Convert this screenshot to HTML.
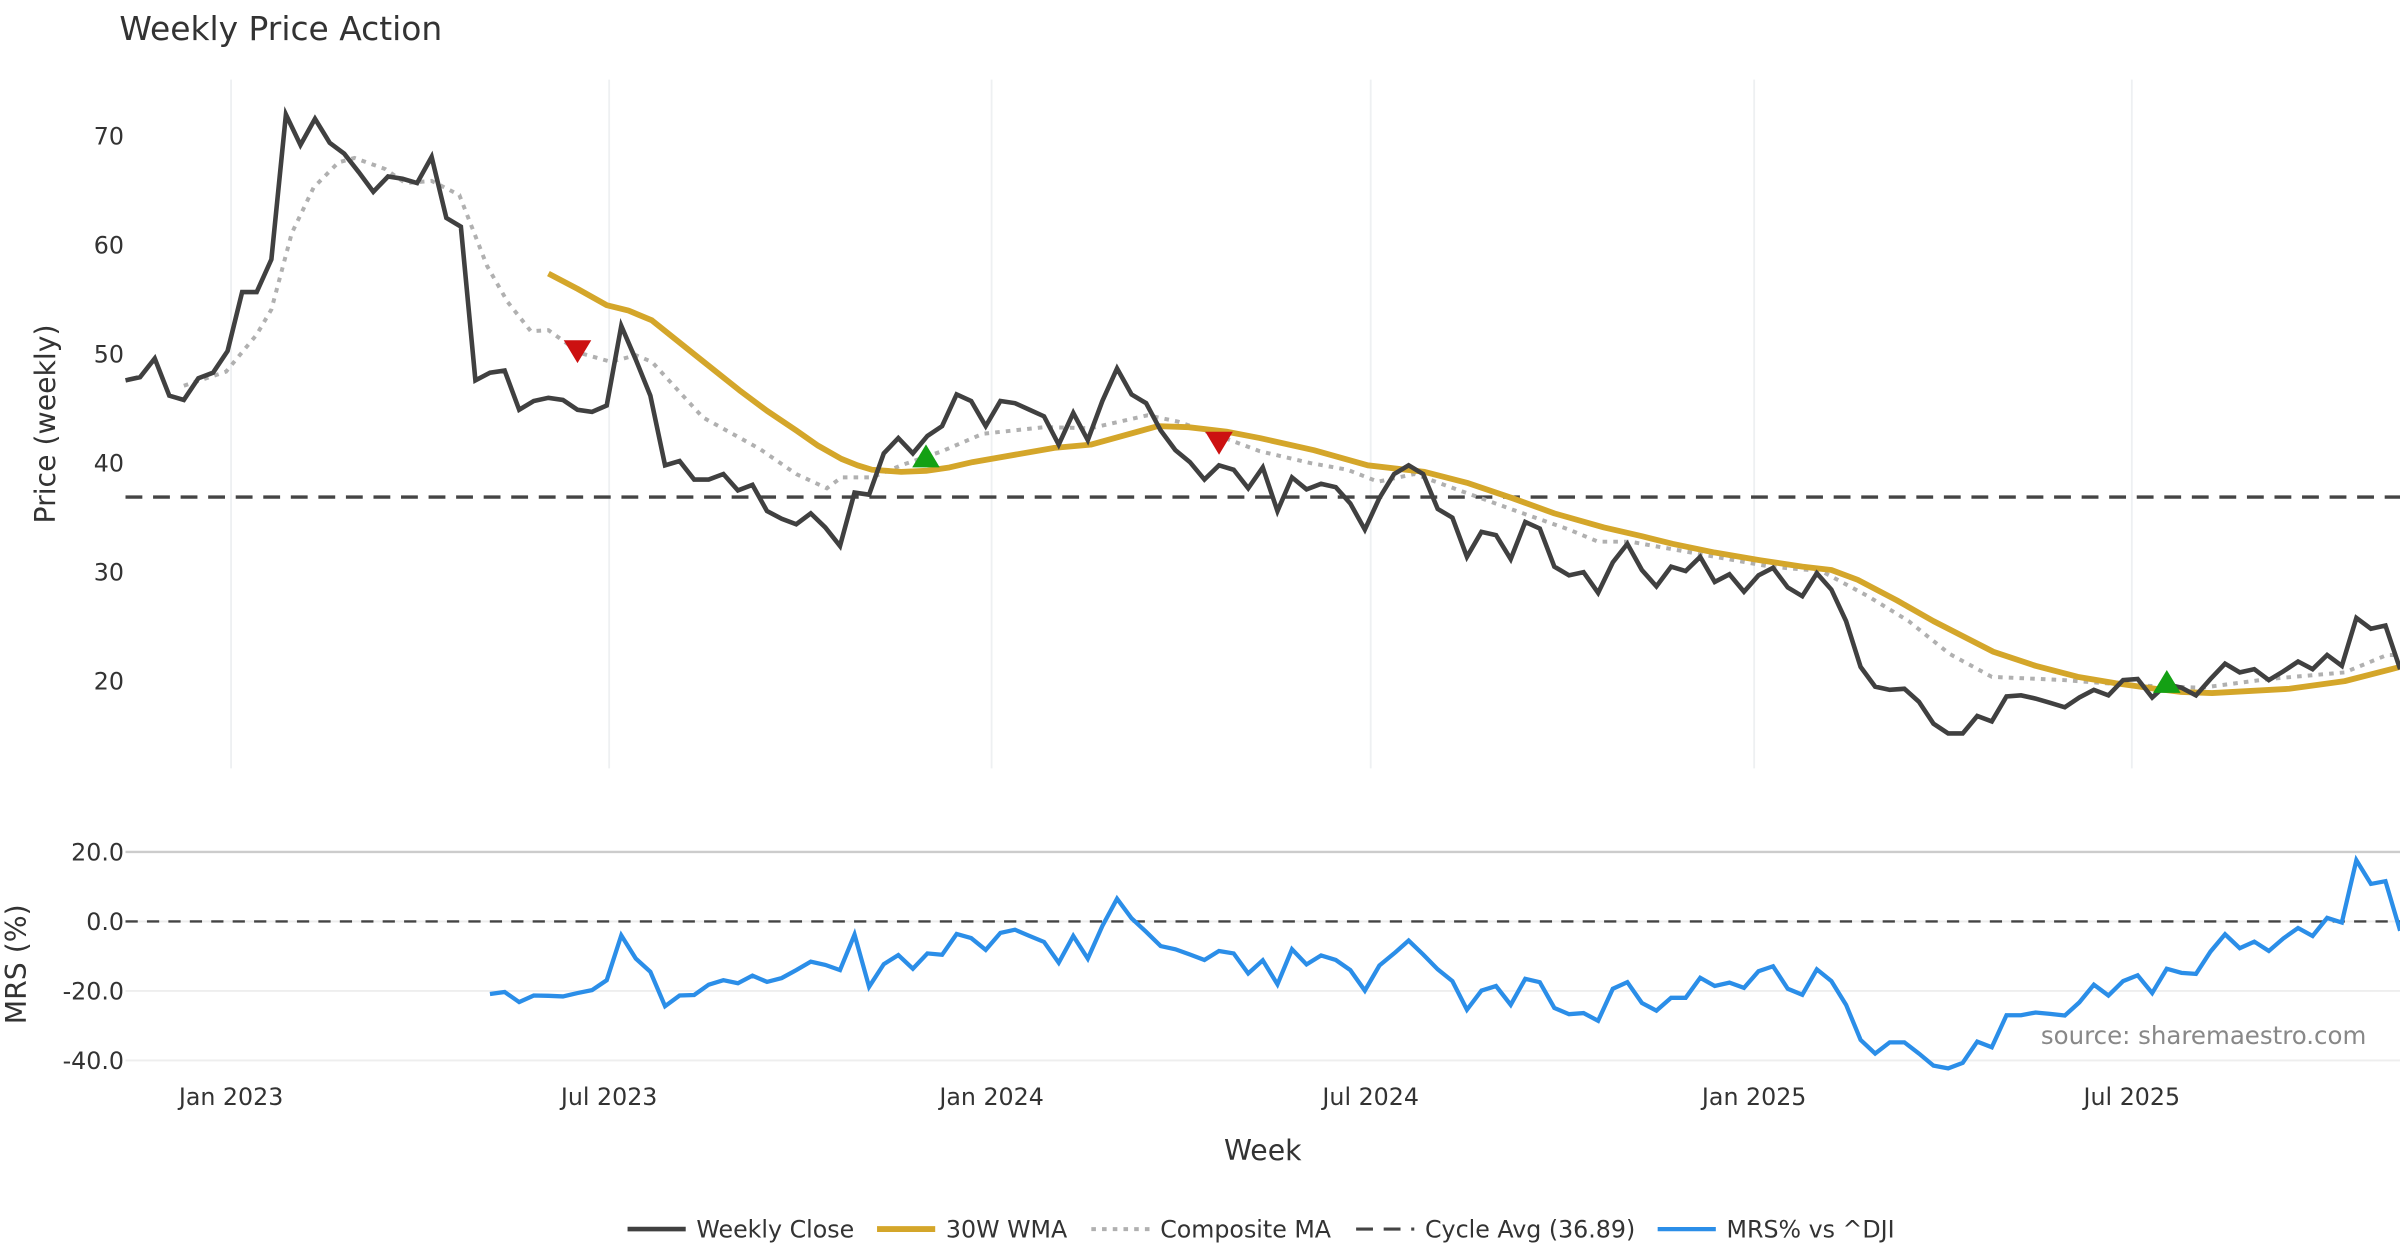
<!DOCTYPE html>
<html><head><meta charset="utf-8"><style>
html,body{margin:0;padding:0;background:#fff}
svg{display:block}
text{font-family:"DejaVu Sans","Liberation Sans",sans-serif;fill:#333}
</style></head><body>
<svg id="chart" width="2400" height="1260" viewBox="0 0 1568 823.2" xmlns="http://www.w3.org/2000/svg">
<text x="78" y="26" font-size="21.5">Weekly Price Action</text>
<g id="grid"></g><g id="axes"></g><g id="series"></g><g id="legend"></g>
<text x="1546" y="682" font-size="16" text-anchor="end" style="fill:#888">source: sharemaestro.com</text>
</svg>
<script>
const closeVals=[47.6,47.9,49.6,46.2,45.8,47.8,48.3,50.3,55.7,55.7,58.7,72.0,69.2,71.6,69.4,68.4,66.7,64.9,66.3,66.1,65.7,68.1,62.5,61.7,47.6,48.3,48.5,44.9,45.7,46.0,45.8,44.9,44.7,45.3,52.6,49.5,46.2,39.8,40.2,38.5,38.5,39.0,37.5,38.0,35.6,34.9,34.4,35.4,34.1,32.4,37.3,37.1,40.9,42.3,
40.9,42.5,43.4,46.3,45.7,43.4,45.7,45.5,44.9,44.3,41.7,44.6,42.1,45.7,48.7,46.3,45.5,43.0,41.2,40.1,38.5,39.8,39.4,37.7,39.6,35.6,38.7,37.6,38.1,37.8,36.3,33.9,36.8,39.0,39.8,39.0,35.8,35.0,31.4,33.7,33.4,31.2,34.6,34.0,30.5,29.7,30.0,28.1,30.9,32.6,30.2,
28.7,30.5,30.1,31.4,29.1,29.8,28.2,29.7,30.4,28.6,27.8,29.9,28.4,25.5,21.3,19.5,19.2,19.3,18.1,16.1,15.2,15.2,16.8,16.3,18.6,18.7,18.4,18.0,17.6,18.5,19.2,18.7,20.1,20.2,18.5,19.7,19.4,18.7,20.2,21.6,20.8,21.1,20.1,20.9,21.8,21.1,22.4,21.4,25.8,24.8,25.1,21.1];
const wmaIdx=[29,31,33,34.5,36.1,39,42.1,44,46,47.5,49.1,50.2,51.2,53.2,54.9,56.5,58.1,63.7,66.2,70.8,72.9,75.5,77.8,81.5,85.2,89.1,92,95.1,98,101.4,104,106.1,109,112.1,115,117,118.8,121.5,124,128.1,131,133.9,136.5,139.2,141,143.1,148.4,152.2,155.4,156];
const wmaVal=[57.4,56.0,54.5,54.0,53.1,50.0,46.7,44.8,43.0,41.6,40.4,39.8,39.4,39.2,39.3,39.6,40.1,41.4,41.7,43.4,43.3,42.9,42.3,41.2,39.8,39.2,38.2,36.8,35.4,34.1,33.3,32.6,31.8,31.1,30.5,30.2,29.3,27.4,25.5,22.7,21.4,20.4,19.8,19.3,19.0,18.9,19.3,20.0,21.1,21.3];
const compIdx=[4,6.9,9,10,11.4,12.9,14.6,15.7,17.8,19.2,21,22.9,24.8,26.2,27.8,29,31.2,33.3,35,36.1,39.6,43.5,46,48.1,49.1,51.2,53.2,56,58.8,63,66.2,70.1,72.2,75,77.8,81.3,83.8,85.9,88.4,91.9,95.4,99,101,103.2,108.2,112.8,116.3,119.5,122.3,125.1,128,132.9,137.8,142.4,147,152.2,155.1,156];
const compVal=[47.1,48.4,51.8,54.1,61.1,65.3,67.6,68.0,67.0,65.7,65.9,64.6,58.1,54.8,52.1,52.2,50.1,49.3,49.9,49.3,44.2,41.3,39.0,37.7,38.7,38.7,39.8,41.1,42.7,43.3,43.2,44.4,43.8,42.5,41.1,40.0,39.4,38.3,39.0,37.3,35.6,33.9,32.8,32.8,31.6,30.5,30.1,27.8,25.5,22.5,20.4,20.1,19.6,19.4,20.2,20.8,22.4,22.4];
const mrsStart=25;
const mrsVals=[-20.9,-20.3,-23.2,-21.3,-21.4,-21.6,-20.6,-19.8,-16.9,-4.0,-10.7,-14.5,-24.4,-21.3,-21.2,-18.2,-16.9,-17.8,-15.6,-17.4,-16.3,-14.0,-11.6,-12.5,-14.0,-3.8,-18.8,-12.3,-9.7,-13.6,-9.2,-9.6,-3.6,-4.8,-8.2,-3.3,-2.4,-4.2,-5.9,-11.9,-4.2,-10.7,-1.3,6.5,0.9,-3.0,-7.1,-8.0,-9.5,-11.1,-8.5,-9.2,-15.0,-11.2,-18.1,-8.0,-12.4,-9.8,-11.1,-14.0,-19.9,-12.7,-9.2,-5.5,-9.5,-13.8,
-17.2,-25.4,-19.9,-18.6,-24.0,-16.5,-17.5,-24.9,-26.7,-26.4,-28.6,-19.4,-17.5,-23.5,-25.7,-22.0,-22.0,-16.2,-18.6,-17.6,-19.1,-14.3,-12.9,-19.4,-21.1,-13.8,-17.2,-24.0,-34.1,-38.0,-34.8,-34.8,-38.0,-41.5,-42.3,-40.7,-34.6,-36.2,-27.0,-27.0,-26.2,-26.6,-27.1,-23.3,-18.2,-21.3,-17.2,-15.5,-20.6,-13.6,-14.8,-15.1,-8.7,-3.7,-7.7,-5.8,-8.5,-4.9,-1.9,-4.2,1.0,-0.3,17.6,10.8,11.6,-2.7];
const cycleAvg=36.89;
const sellIdx=[31,75], sellVal=[50.3,41.9];
const buyIdx=[54.9,140], buyVal=[40.6,19.9];
const xTickLabels=["Jan 2023","Jul 2023","Jan 2024","Jul 2024","Jan 2025","Jul 2025"];
const xTickIdx=[7.24,33.17,59.4,85.4,111.7,137.6];
const priceTicks=[20,30,40,50,60,70];
const mrsTicks=[20,0,-20,-40];

const NS="http://www.w3.org/2000/svg";
const X=i=>82+i*9.526;
const Y=v=>445-(v-20)*7.12;
const YM=v=>602-v*2.27;
function mk(tag,attrs,parent,txt){const e=document.createElementNS(NS,tag);for(const k in attrs)e.setAttribute(k,attrs[k]);if(txt!==undefined)e.textContent=txt;parent.appendChild(e);return e;}
const grid=document.getElementById('grid'),axes=document.getElementById('axes'),ser=document.getElementById('series'),leg=document.getElementById('legend');

xTickIdx.forEach((t,k)=>{
  const l=mk('line',{x1:X(t),x2:X(t),y1:52,y2:502,stroke:'#eef0f2','stroke-width':1.2},grid);
  
  
  const tx=mk('text',{x:X(t),y:722,'font-size':15.5,'text-anchor':'middle'},axes,xTickLabels[k]);
  
  
});
priceTicks.forEach(v=>{
  const tx=mk('text',{x:81,y:Y(v)+5.5,'font-size':15.5,'text-anchor':'end'},axes,String(v));
  
  
});
mrsTicks.forEach(v=>{
  const gl=mk('line',{x1:82,x2:1568,y1:YM(v),y2:YM(v),stroke:v===20?'#cccccc':'#eeeeee','stroke-width':v===20?1.5:1.2},grid);
  
  
  const tx=mk('text',{x:81,y:YM(v)+5.5,'font-size':15.5,'text-anchor':'end'},axes,v.toFixed(1));
  
  
});
let t=mk('text',{x:36,y:277,'font-size':18.5,'text-anchor':'middle',transform:'rotate(-90 36 277)'},axes,'Price (weekly)');


t=mk('text',{x:17,y:630,'font-size':18.5,'text-anchor':'middle',transform:'rotate(-90 17 630)'},axes,'MRS (%)');


t=mk('text',{x:825,y:758,'font-size':18.5,'text-anchor':'middle'},axes,'Week');



let c=mk('line',{x1:82,x2:1568,y1:Y(cycleAvg),y2:Y(cycleAvg),stroke:'#444','stroke-width':2.2,'stroke-dasharray':'11 7'},ser);


c=mk('line',{x1:82,x2:1568,y1:YM(0),y2:YM(0),stroke:'#444','stroke-width':1.5,'stroke-dasharray':'8 6'},ser);



function pts(idx,vals,yf){return vals.map((v,k)=>X(idx[k]).toFixed(1)+','+yf(v).toFixed(1)).join(' ');}
const seqIdx=(n,s)=>Array.from({length:n},(_,k)=>k+s);
let p=mk('polyline',{points:pts(compIdx,compVal,Y),fill:'none',stroke:'#b0b0b0','stroke-width':2.6,'stroke-dasharray':'3 4'},ser);


p=mk('polyline',{points:pts(wmaIdx,wmaVal,Y),fill:'none',stroke:'#d4a62a','stroke-width':3.8,'stroke-linejoin':'round'},ser);


p=mk('polyline',{points:pts(seqIdx(closeVals.length,0),closeVals,Y),fill:'none',stroke:'#404040','stroke-width':3,'stroke-linejoin':'miter'},ser);


p=mk('polyline',{points:pts(seqIdx(mrsVals.length,mrsStart),mrsVals,YM),fill:'none',stroke:'#2b8ee8','stroke-width':2.8},ser);



sellIdx.forEach((i,k)=>{const x=X(i),y=Y(sellVal[k]);
  const m=mk('polygon',{points:`${x-9},${y-7} ${x+9},${y-7} ${x},${y+8}`,fill:'#cc1111'},ser);
  
  });
buyIdx.forEach((i,k)=>{const x=X(i),y=Y(buyVal[k]);
  const m=mk('polygon',{points:`${x-9},${y+7} ${x+9},${y+7} ${x},${y-8}`,fill:'#14a014'},ser);
  
  });

const legItems=[
 {x:410,label:'Weekly Close',stroke:'#404040',w:3,dash:''},
 {x:573,label:'30W WMA',stroke:'#d4a62a',w:3.8,dash:''},
 {x:713,label:'Composite MA',stroke:'#b0b0b0',w:2.6,dash:'3 4'},
 {x:886,label:'Cycle Avg (36.89)',stroke:'#444',w:2,dash:'11 7'},
 {x:1083,label:'MRS% vs ^DJI',stroke:'#2b8ee8',w:2.8,dash:''}];
legItems.forEach(it=>{
  const g=mk('g',{},leg);
  
  
  mk('line',{x1:it.x,x2:it.x+38,y1:803,y2:803,stroke:it.stroke,'stroke-width':it.w,'stroke-dasharray':it.dash},g);
  mk('text',{x:it.x+45,y:808.5,'font-size':15.5},g,it.label);
});
</script>
</body></html>
